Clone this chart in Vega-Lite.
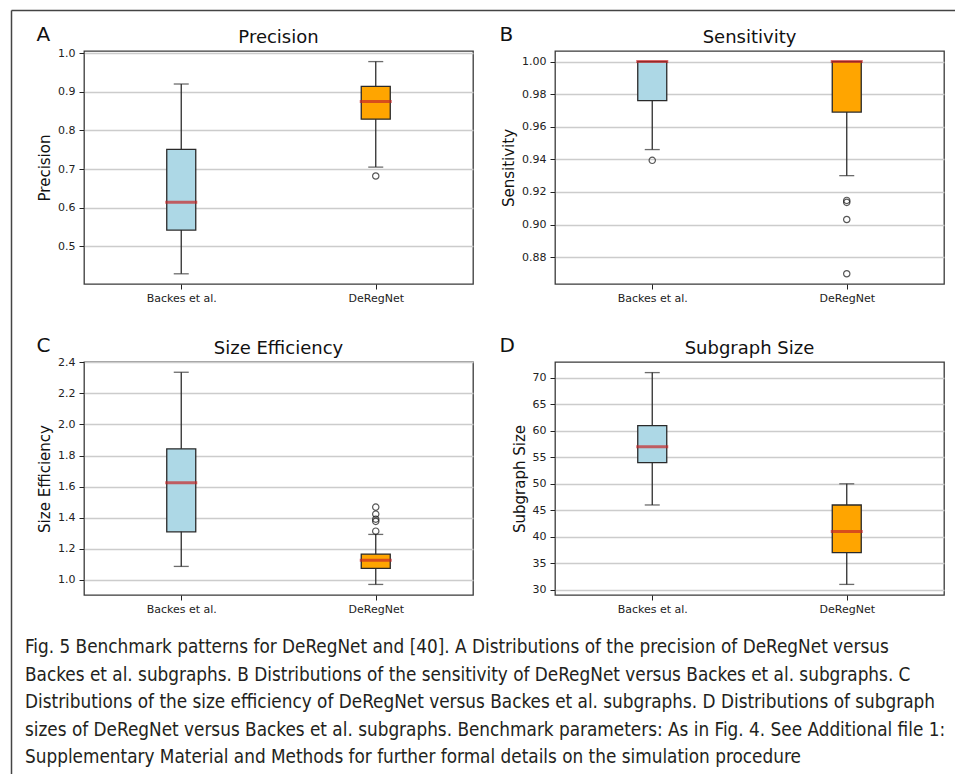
{
  "$schema": "https://vega.github.io/schema/vega-lite/v6.json",
  "padding": {"left": 8, "top": 10, "right": 0, "bottom": 0},
  "background": "white",
  "datasets": {
    "stats": [
      {"metric": "Precision", "group": "Backes et al.", "lower": 0.429, "q1": 0.542, "median": 0.614, "q3": 0.751, "upper": 0.92},
      {"metric": "Precision", "group": "DeRegNet", "lower": 0.705, "q1": 0.829, "median": 0.875, "q3": 0.914, "upper": 0.978},
      {"metric": "Sensitivity", "group": "Backes et al.", "lower": 0.946, "q1": 0.976, "median": 1.0, "q3": 1.0, "upper": 1.0},
      {"metric": "Sensitivity", "group": "DeRegNet", "lower": 0.93, "q1": 0.969, "median": 1.0, "q3": 1.0, "upper": 1.0},
      {"metric": "Size Efficiency", "group": "Backes et al.", "lower": 1.086, "q1": 1.309, "median": 1.624, "q3": 1.843, "upper": 2.336},
      {"metric": "Size Efficiency", "group": "DeRegNet", "lower": 0.97, "q1": 1.073, "median": 1.125, "q3": 1.165, "upper": 1.292},
      {"metric": "Subgraph Size", "group": "Backes et al.", "lower": 46, "q1": 54, "median": 57, "q3": 61, "upper": 71},
      {"metric": "Subgraph Size", "group": "DeRegNet", "lower": 31, "q1": 37, "median": 41, "q3": 46, "upper": 50}
    ],
    "outliers": [
      {"metric": "Precision", "group": "DeRegNet", "value": 0.682},
      {"metric": "Sensitivity", "group": "Backes et al.", "value": 0.9394},
      {"metric": "Sensitivity", "group": "DeRegNet", "value": 0.9148},
      {"metric": "Sensitivity", "group": "DeRegNet", "value": 0.9136},
      {"metric": "Sensitivity", "group": "DeRegNet", "value": 0.9031},
      {"metric": "Sensitivity", "group": "DeRegNet", "value": 0.8698},
      {"metric": "Size Efficiency", "group": "DeRegNet", "value": 1.468},
      {"metric": "Size Efficiency", "group": "DeRegNet", "value": 1.423},
      {"metric": "Size Efficiency", "group": "DeRegNet", "value": 1.39},
      {"metric": "Size Efficiency", "group": "DeRegNet", "value": 1.376},
      {"metric": "Size Efficiency", "group": "DeRegNet", "value": 1.313}
    ],
    "frame": [{"k": 0}]
  },
  "bounds": "flush",
  "spacing": 72,
  "hconcat": [
    {
      "width": 1, "height": 723,
      "view": {"stroke": null},
      "data": {"name": "frame"},
      "mark": {"type": "point", "opacity": 0},
      "encoding": {
        "x": {"field": "k", "type": "quantitative", "scale": {"domain": [0, 1], "range": [0, 960]},
              "axis": {"orient": "top", "offset": 41, "domain": true, "domainColor": "#444444", "domainWidth": 1.5, "ticks": false, "labels": false, "grid": false, "title": null}},
        "y": {"field": "k", "type": "quantitative", "scale": {"domain": [0, 1], "range": [740, -41]},
              "axis": {"orient": "left", "domain": true, "domainColor": "#444444", "domainWidth": 1.5, "ticks": false, "labels": false, "grid": false, "title": null}}
      },
      "title": {
        "text": [
          "Fig. 5  Benchmark patterns for DeRegNet and [40]. A Distributions of the precision of DeRegNet versus",
          "Backes et al. subgraphs. B Distributions of the sensitivity of DeRegNet versus Backes et al. subgraphs. C",
          "Distributions of the size efficiency of DeRegNet versus Backes et al. subgraphs. D Distributions of subgraph",
          "sizes of DeRegNet versus Backes et al. subgraphs. Benchmark parameters: As in Fig. 4. See Additional file 1:",
          "Supplementary Material and Methods for further formal details on the simulation procedure"
        ],
        "orient": "top",
        "anchor": "start",
        "frame": "group",
        "offset": -772,
        "baseline": "alphabetic",
        "dx": 14,
        "font": "DejaVu Sans Condensed",
        "fontSize": 18.8,
        "fontWeight": "normal",
        "lineHeight": 27.5,
        "color": "#231f20"
      }
    },
    {
      "columns": 2,
      "bounds": "flush",
      "spacing": {"row": 78, "column": 82},
      "concat": [
        {
          "width": 389, "height": 233,
          "view": {"stroke": "#3a3a3a", "strokeWidth": 1.3},
          "title": {"text": "Precision"},
          "layer": [
            {"data": {"name": "stats"}, "transform": [{"filter": "datum.metric === 'Precision'"}],
             "mark": {"type": "rule", "color": "#2e2e2e", "strokeWidth": 1.3},
             "encoding": {
               "x": {"field": "group", "type": "nominal", "title": "A", "sort": ["Backes et al.", "DeRegNet"], "scale": {"type": "point", "padding": 0.5}, "axis": {"titleX": -48}},
               "y": {"field": "lower", "type": "quantitative", "title": "Precision", "scale": {"domain": [0.4026, 1.0054], "nice": false, "zero": false}, "axis": {"values": [0.5, 0.6, 0.7, 0.8, 0.9, 1.0], "format": ".1f"}},
               "y2": {"field": "upper"}
             }},
            {"data": {"name": "stats"}, "transform": [{"filter": "datum.metric === 'Precision'"}],
             "mark": {"type": "tick", "color": "#2e2e2e", "thickness": 1.3, "size": 15},
             "encoding": {"x": {"field": "group", "type": "nominal", "title": "A"}, "y": {"field": "lower", "type": "quantitative", "title": "Precision"}}},
            {"data": {"name": "stats"}, "transform": [{"filter": "datum.metric === 'Precision'"}],
             "mark": {"type": "tick", "color": "#2e2e2e", "thickness": 1.3, "size": 15},
             "encoding": {"x": {"field": "group", "type": "nominal", "title": "A"}, "y": {"field": "upper", "type": "quantitative", "title": "Precision"}}},
            {"data": {"name": "stats"}, "transform": [{"filter": "datum.metric === 'Precision'"}],
             "mark": {"type": "bar", "size": 29, "stroke": "#2a2a2a", "strokeWidth": 1.3},
             "encoding": {"x": {"field": "group", "type": "nominal", "title": "A"}, "y": {"field": "q1", "type": "quantitative", "title": "Precision"}, "y2": {"field": "q3"},
               "fill": {"field": "group", "type": "nominal", "scale": {"domain": ["Backes et al.", "DeRegNet"], "range": ["#add8e6", "#ffa500"]}, "legend": null}}},
            {"data": {"name": "stats"}, "transform": [{"filter": "datum.metric === 'Precision'"}],
             "mark": {"type": "tick", "color": "#c62828", "thickness": 3, "size": 32},
             "encoding": {"x": {"field": "group", "type": "nominal", "title": "A"}, "y": {"field": "median", "type": "quantitative", "title": "Precision"}}},
            {"data": {"name": "outliers"}, "transform": [{"filter": "datum.metric === 'Precision'"}],
             "mark": {"type": "point", "shape": "circle", "filled": false, "color": "#111111", "strokeWidth": 1.2, "size": 40},
             "encoding": {"x": {"field": "group", "type": "nominal", "title": "A"}, "y": {"field": "value", "type": "quantitative", "title": "Precision"}}}
          ]
        },
        {
          "width": 389, "height": 233,
          "view": {"stroke": "#3a3a3a", "strokeWidth": 1.3},
          "title": {"text": "Sensitivity"},
          "layer": [
            {"data": {"name": "stats"}, "transform": [{"filter": "datum.metric === 'Sensitivity'"}],
             "mark": {"type": "rule", "color": "#2e2e2e", "strokeWidth": 1.3},
             "encoding": {
               "x": {"field": "group", "type": "nominal", "title": "B", "sort": ["Backes et al.", "DeRegNet"], "scale": {"type": "point", "padding": 0.5}, "axis": {"titleX": -56}},
               "y": {"field": "lower", "type": "quantitative", "title": "Sensitivity", "scale": {"domain": [0.8635, 1.0065], "nice": false, "zero": false}, "axis": {"values": [0.88, 0.9, 0.92, 0.94, 0.96, 0.98, 1.0], "format": ".2f"}},
               "y2": {"field": "upper"}
             }},
            {"data": {"name": "stats"}, "transform": [{"filter": "datum.metric === 'Sensitivity'"}],
             "mark": {"type": "tick", "color": "#2e2e2e", "thickness": 1.3, "size": 15},
             "encoding": {"x": {"field": "group", "type": "nominal", "title": "B"}, "y": {"field": "lower", "type": "quantitative", "title": "Sensitivity"}}},
            {"data": {"name": "stats"}, "transform": [{"filter": "datum.metric === 'Sensitivity'"}],
             "mark": {"type": "bar", "size": 29, "stroke": "#2a2a2a", "strokeWidth": 1.3},
             "encoding": {"x": {"field": "group", "type": "nominal", "title": "B"}, "y": {"field": "q1", "type": "quantitative", "title": "Sensitivity"}, "y2": {"field": "q3"},
               "fill": {"field": "group", "type": "nominal", "scale": {"domain": ["Backes et al.", "DeRegNet"], "range": ["#add8e6", "#ffa500"]}, "legend": null}}},
            {"data": {"name": "stats"}, "transform": [{"filter": "datum.metric === 'Sensitivity'"}],
             "mark": {"type": "tick", "color": "#c62828", "thickness": 3, "size": 32},
             "encoding": {"x": {"field": "group", "type": "nominal", "title": "B"}, "y": {"field": "median", "type": "quantitative", "title": "Sensitivity"}}},
            {"data": {"name": "outliers"}, "transform": [{"filter": "datum.metric === 'Sensitivity'"}],
             "mark": {"type": "point", "shape": "circle", "filled": false, "color": "#111111", "strokeWidth": 1.2, "size": 40},
             "encoding": {"x": {"field": "group", "type": "nominal", "title": "B"}, "y": {"field": "value", "type": "quantitative", "title": "Sensitivity"}}}
          ]
        },
        {
          "width": 389, "height": 233,
          "view": {"stroke": "#3a3a3a", "strokeWidth": 1.3},
          "title": {"text": "Size Efficiency"},
          "layer": [
            {"data": {"name": "stats"}, "transform": [{"filter": "datum.metric === 'Size Efficiency'"}],
             "mark": {"type": "rule", "color": "#2e2e2e", "strokeWidth": 1.3},
             "encoding": {
               "x": {"field": "group", "type": "nominal", "title": "C", "sort": ["Backes et al.", "DeRegNet"], "scale": {"type": "point", "padding": 0.5}, "axis": {"titleX": -48}},
               "y": {"field": "lower", "type": "quantitative", "title": "Size Efficiency", "scale": {"domain": [0.902, 2.402], "nice": false, "zero": false}, "axis": {"values": [1.0, 1.2, 1.4, 1.6, 1.8, 2.0, 2.2, 2.4], "format": ".1f"}},
               "y2": {"field": "upper"}
             }},
            {"data": {"name": "stats"}, "transform": [{"filter": "datum.metric === 'Size Efficiency'"}],
             "mark": {"type": "tick", "color": "#2e2e2e", "thickness": 1.3, "size": 15},
             "encoding": {"x": {"field": "group", "type": "nominal", "title": "C"}, "y": {"field": "lower", "type": "quantitative", "title": "Size Efficiency"}}},
            {"data": {"name": "stats"}, "transform": [{"filter": "datum.metric === 'Size Efficiency'"}],
             "mark": {"type": "tick", "color": "#2e2e2e", "thickness": 1.3, "size": 15},
             "encoding": {"x": {"field": "group", "type": "nominal", "title": "C"}, "y": {"field": "upper", "type": "quantitative", "title": "Size Efficiency"}}},
            {"data": {"name": "stats"}, "transform": [{"filter": "datum.metric === 'Size Efficiency'"}],
             "mark": {"type": "bar", "size": 29, "stroke": "#2a2a2a", "strokeWidth": 1.3},
             "encoding": {"x": {"field": "group", "type": "nominal", "title": "C"}, "y": {"field": "q1", "type": "quantitative", "title": "Size Efficiency"}, "y2": {"field": "q3"},
               "fill": {"field": "group", "type": "nominal", "scale": {"domain": ["Backes et al.", "DeRegNet"], "range": ["#add8e6", "#ffa500"]}, "legend": null}}},
            {"data": {"name": "stats"}, "transform": [{"filter": "datum.metric === 'Size Efficiency'"}],
             "mark": {"type": "tick", "color": "#c62828", "thickness": 3, "size": 32},
             "encoding": {"x": {"field": "group", "type": "nominal", "title": "C"}, "y": {"field": "median", "type": "quantitative", "title": "Size Efficiency"}}},
            {"data": {"name": "outliers"}, "transform": [{"filter": "datum.metric === 'Size Efficiency'"}],
             "mark": {"type": "point", "shape": "circle", "filled": false, "color": "#111111", "strokeWidth": 1.2, "size": 40},
             "encoding": {"x": {"field": "group", "type": "nominal", "title": "C"}, "y": {"field": "value", "type": "quantitative", "title": "Size Efficiency"}}}
          ]
        },
        {
          "width": 389, "height": 233,
          "view": {"stroke": "#3a3a3a", "strokeWidth": 1.3},
          "title": {"text": "Subgraph Size"},
          "layer": [
            {"data": {"name": "stats"}, "transform": [{"filter": "datum.metric === 'Subgraph Size'"}],
             "mark": {"type": "rule", "color": "#2e2e2e", "strokeWidth": 1.3},
             "encoding": {
               "x": {"field": "group", "type": "nominal", "title": "D", "sort": ["Backes et al.", "DeRegNet"], "scale": {"type": "point", "padding": 0.5}, "axis": {"titleX": -56}},
               "y": {"field": "lower", "type": "quantitative", "title": "Subgraph Size", "scale": {"domain": [29, 73], "nice": false, "zero": false}, "axis": {"values": [30, 35, 40, 45, 50, 55, 60, 65, 70], "format": "d"}},
               "y2": {"field": "upper"}
             }},
            {"data": {"name": "stats"}, "transform": [{"filter": "datum.metric === 'Subgraph Size'"}],
             "mark": {"type": "tick", "color": "#2e2e2e", "thickness": 1.3, "size": 15},
             "encoding": {"x": {"field": "group", "type": "nominal", "title": "D"}, "y": {"field": "lower", "type": "quantitative", "title": "Subgraph Size"}}},
            {"data": {"name": "stats"}, "transform": [{"filter": "datum.metric === 'Subgraph Size'"}],
             "mark": {"type": "tick", "color": "#2e2e2e", "thickness": 1.3, "size": 15},
             "encoding": {"x": {"field": "group", "type": "nominal", "title": "D"}, "y": {"field": "upper", "type": "quantitative", "title": "Subgraph Size"}}},
            {"data": {"name": "stats"}, "transform": [{"filter": "datum.metric === 'Subgraph Size'"}],
             "mark": {"type": "bar", "size": 29, "stroke": "#2a2a2a", "strokeWidth": 1.3},
             "encoding": {"x": {"field": "group", "type": "nominal", "title": "D"}, "y": {"field": "q1", "type": "quantitative", "title": "Subgraph Size"}, "y2": {"field": "q3"},
               "fill": {"field": "group", "type": "nominal", "scale": {"domain": ["Backes et al.", "DeRegNet"], "range": ["#add8e6", "#ffa500"]}, "legend": null}}},
            {"data": {"name": "stats"}, "transform": [{"filter": "datum.metric === 'Subgraph Size'"}],
             "mark": {"type": "tick", "color": "#c62828", "thickness": 3, "size": 32},
             "encoding": {"x": {"field": "group", "type": "nominal", "title": "D"}, "y": {"field": "median", "type": "quantitative", "title": "Subgraph Size"}}}
          ]
        }
      ]
    }
  ],
  "config": {
    "font": "DejaVu Sans",
    "title": {"font": "DejaVu Sans", "fontSize": 18, "fontWeight": "normal", "color": "#111111", "offset": -22.5},
    "axis": {
      "domain": false,
      "labelOverlap": false,
      "tickColor": "#222222", "tickSize": 5, "tickWidth": 1,
      "labelFont": "DejaVu Sans", "labelFontSize": 11, "labelColor": "#222222", "labelPadding": 4,
      "titleFont": "DejaVu Sans", "titleFontSize": 15, "titleFontWeight": "normal", "titleColor": "#111111", "titlePadding": 5,
      "gridColor": "#cccccc", "gridWidth": 1.3
    },
    "axisX": {"grid": false, "labelAngle": 0, "titleFontSize": 20, "titleAngle": 0, "titleAlign": "left", "titleBaseline": "alphabetic", "titleY": -244, "labelPadding": 3},
    "axisY": {"grid": true, "tickCount": 12}
  }
}
